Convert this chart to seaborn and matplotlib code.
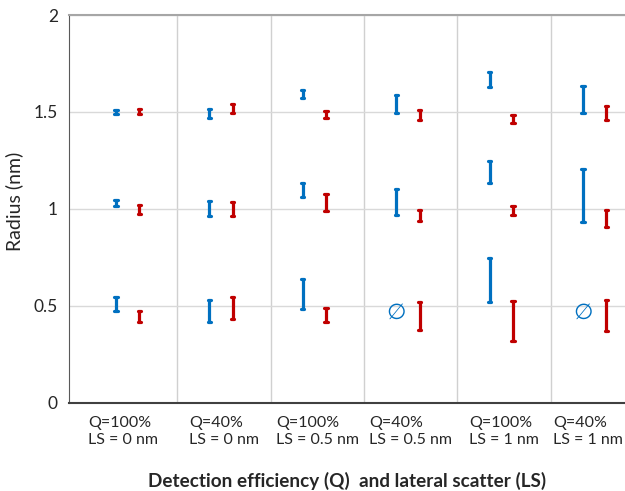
import pandas as pd
import matplotlib.pyplot as plt
import matplotlib.transforms as mtransforms
import seaborn as sns

# categories on the x axis
categories = ['Q=100%\nLS = 0 nm', 'Q=40%\nLS = 0 nm', 'Q=100%\nLS = 0.5 nm',
              'Q=40%\nLS = 0.5 nm', 'Q=100%\nLS = 1 nm', 'Q=40%\nLS = 1 nm']

# (low, high) of each error bar, per radius level
blue_top = [(1.49, 1.51), (1.47, 1.515), (1.57, 1.615), (1.495, 1.585), (1.63, 1.705), (1.495, 1.635)]
red_top = [(1.49, 1.515), (1.495, 1.54), (1.47, 1.505), (1.46, 1.51), (1.445, 1.485), (1.46, 1.53)]
blue_mid = [(1.015, 1.045), (0.965, 1.04), (1.06, 1.135), (0.97, 1.105), (1.135, 1.245), (0.93, 1.205)]
red_mid = [(0.975, 1.02), (0.965, 1.035), (0.99, 1.075), (0.935, 0.995), (0.97, 1.015), (0.905, 0.995)]
blue_low = [(0.475, 0.545), (0.415, 0.53), (0.485, 0.64), None, (0.52, 0.745), None]
red_low = [(0.415, 0.475), (0.43, 0.545), (0.415, 0.49), (0.375, 0.52), (0.32, 0.525), (0.37, 0.53)]

# blue series has no result here -> drawn as an empty-set sign
empty_y = 0.465

yticks = [0, 0.5, 1, 1.5, 2]
ytick_labels = ['0', '0.5', '1', '1.5', '2']

blue = '#0070C0'
red = '#C00000'

# long table: two rows (low/high) per error bar
rows = []
for series, levels in [('blue', [blue_top, blue_mid, blue_low]), ('red', [red_top, red_mid, red_low])]:
    for lev, pairs in zip(['top', 'mid', 'low'], levels):
        for cat, pair in zip(categories, pairs):
            if pair is None:
                continue
            for v in pair:
                rows.append({'cat': cat, 'series': series, 'level': lev, 'radius': v})
df = pd.DataFrame(rows)

sns.set_style('white')
plt.rcParams['font.family'] = ['Lato', 'DejaVu Sans']

fig = plt.figure(figsize=(6.25, 4.91), dpi=100)
ax = fig.add_axes([0.1104, 0.1798, 0.8896, 0.7896])

for lev in ['top', 'mid', 'low']:
    sns.pointplot(data=df[df['level'] == lev], x='cat', y='radius', hue='series',
                  order=categories, hue_order=['blue', 'red'], palette=[blue, red],
                  estimator='mean', errorbar=('pi', 100), dodge=0.25, capsize=0.035,
                  markers='', linestyles='none', err_kws={'linewidth': 2.3},
                  legend=False, ax=ax)

# empty-set sign for the missing blue values
for i, pair in enumerate(blue_low):
    if pair is None:
        ax.text(i - 0.125, empty_y, '\u2205', color=blue, fontsize=16,
                ha='center', va='center', family=['DejaVu Sans'])

xlim = (-0.628, 5.325)
ax.set_xlim(*xlim)
ax.set_ylim(0, 2)
ax.set_yticks(yticks)
ax.set_yticklabels(ytick_labels)

# category dividers (also extended below the axis)
dividers = [i + 0.53 for i in range(len(categories) - 1)]
ax.set_xticks(dividers, minor=True)
ax.grid(axis='x', which='minor', color='#D0D0D0', linewidth=1)
ax.grid(axis='y', which='major', color='#D9D9D9', linewidth=1)
ax.grid(axis='x', which='major', visible=False)
ax.set_axisbelow(True)

# category labels: left-aligned two-line blocks centred between dividers
ax.set_xticklabels([''] * len(categories))
bounds = [xlim[0]] + dividers + [xlim[1]]
trans = mtransforms.blended_transform_factory(ax.transData, ax.transAxes)
for k, cat in enumerate(categories):
    xc = (bounds[k] + bounds[k + 1]) / 2
    ax.text(xc, -0.034, cat, transform=trans, ha='center', va='top',
            multialignment='left', linespacing=1.25, fontsize=11.5, color='#262626')

ax.tick_params(axis='x', which='major', length=0)
ax.tick_params(axis='x', which='minor', length=36, width=1, color='#BFBFBF', direction='out')
ax.tick_params(axis='y', length=0, pad=8, labelsize=12.5, labelcolor='#262626')

for s in ['left', 'bottom', 'top', 'right']:
    ax.spines[s].set_visible(True)
ax.spines['left'].set_color('#595959')
ax.spines['bottom'].set_color('#404040')
ax.spines['bottom'].set_linewidth(1.5)
ax.spines['top'].set_color('#A6A6A6')
ax.spines['top'].set_linewidth(1.5)
ax.spines['right'].set_visible(False)

ax.set_xlabel('Detection efficiency (Q)  and lateral scatter (LS)', fontsize=13.6,
              fontweight='bold', color='#262626')
ax.xaxis.set_label_coords(0.5, -0.178)
ax.set_ylabel('Radius (nm)', fontsize=14, color='#262626')
ax.yaxis.set_label_coords(-0.082, 0.52)

plt.savefig('out.png', dpi=100)
